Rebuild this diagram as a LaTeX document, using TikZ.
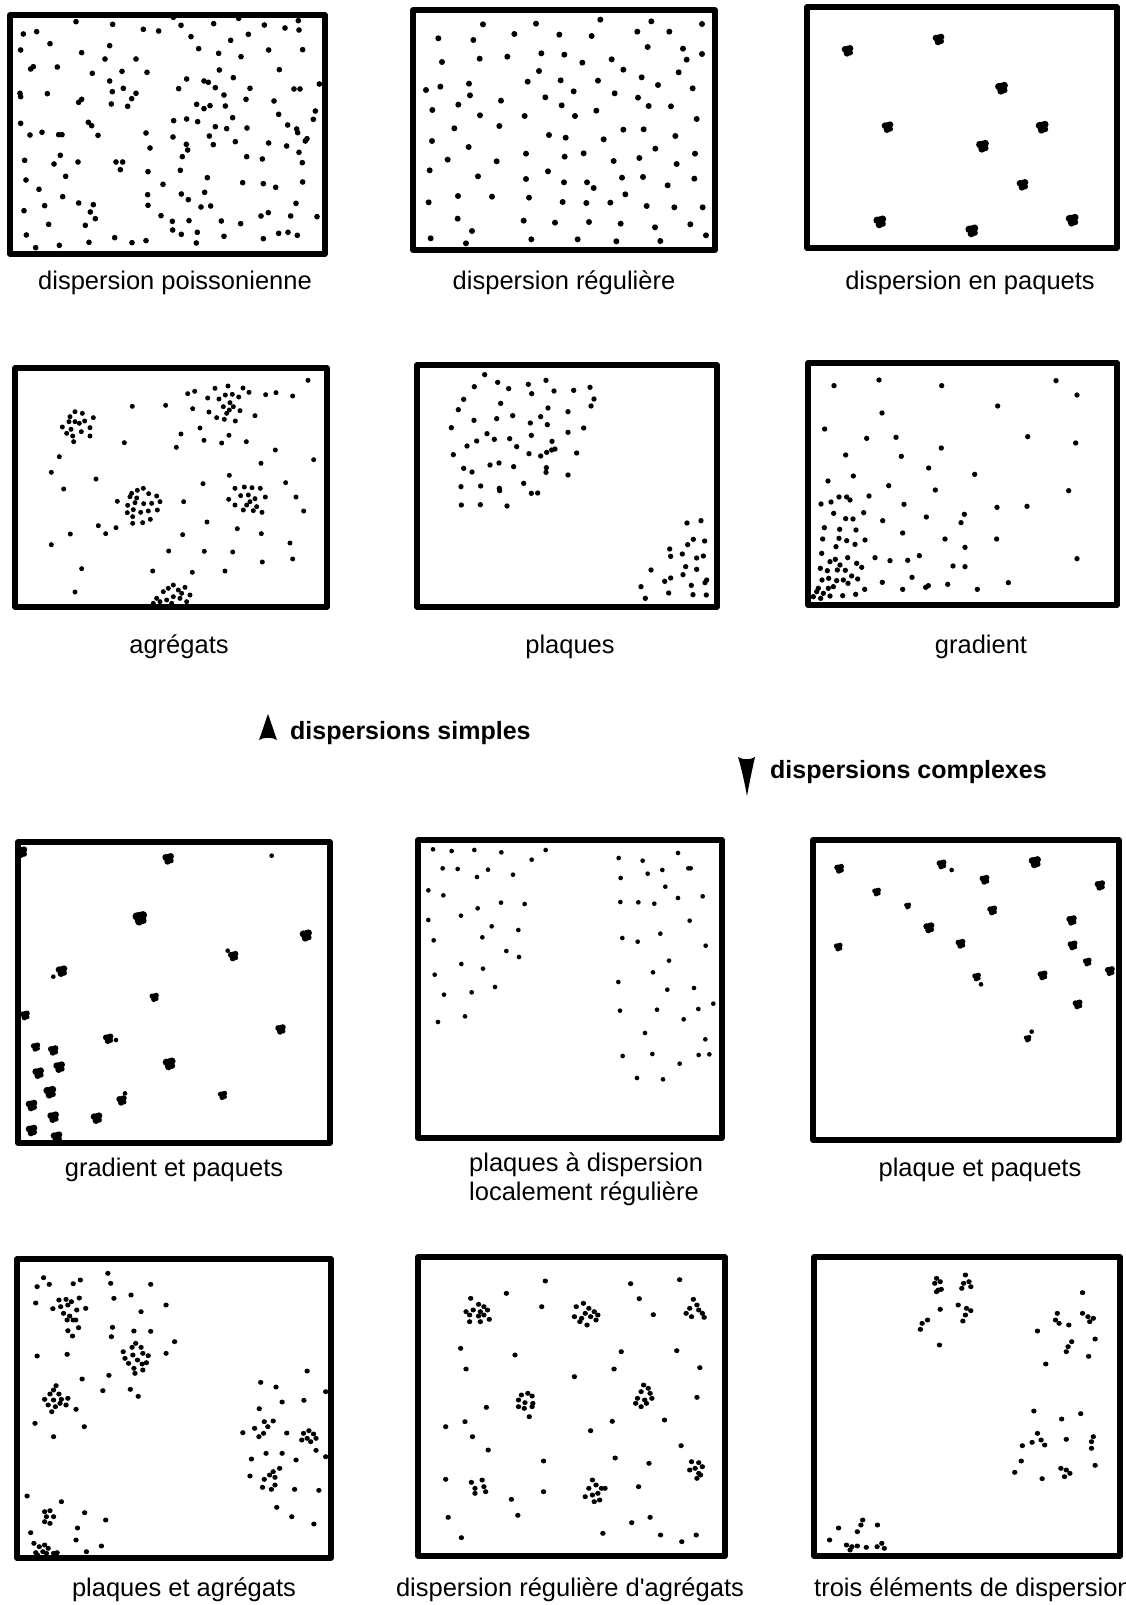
\documentclass[tikz,border=0pt]{standalone}
\usepackage{fontspec}
\setmainfont{Liberation Sans}
\newcommand\dotlist[2]{\foreach \a/\b in {#2} \fill (\a,\b) circle[radius=#1];}
\newcommand\bloblist[1]{\foreach \a/\b/\s in {#1} \fill[shift={(\a,\b)},scale=\s] (0,0) circle[radius=14] (7,-6) circle[radius=10] (-8,-3) circle[radius=10] (-2,9) circle[radius=10] (8,7) circle[radius=8];}
\begin{document}
\begin{tikzpicture}[x=1pt,y=-1pt,
  box/.style={line width=5.5pt,line join=round,line cap=round},
  lbl/.style={anchor=base,inner sep=0pt,font=\fontsize{25.5}{30}\selectfont},
  bold/.style={anchor=base west,inner sep=0pt,font=\fontsize{25}{30}\selectfont\bfseries}]
\useasboundingbox[fill=white] (0,0) rectangle (1125,1605);

% ---------- boxes ----------
\draw[box] (10,15) rectangle (325,254);
\draw[box] (413,10) rectangle (715,250);
\draw[box] (807,7) rectangle (1117,248);
\draw[box] (15,368) rectangle (327,607);
\draw[box] (417,365) rectangle (717,607);
\draw[box] (808,363) rectangle (1117,605);
\draw[box] (18,842) rectangle (330,1143);
\draw[box] (418,840) rectangle (722,1138);
\draw[box] (813,840) rectangle (1119,1140);
\draw[box] (17,1259) rectangle (331,1558);
\draw[box] (418,1257) rectangle (725,1556);
\draw[box] (814,1257) rectangle (1120,1556);

% ---------- labels ----------
\node[lbl] (l1) at (175,289) {dispersion poissonienne};
\node[lbl] (l2) at (564,289) {dispersion régulière};
\node[lbl] (l3) at (970,289) {dispersion en paquets};
\node[lbl] (l4) at (179,653) {agrégats};
\node[lbl] (l5) at (570,653) {plaques};
\node[lbl] (l6) at (981,653) {gradient};
\node[lbl] (l7) at (174,1176) {gradient et paquets};
\node[lbl,anchor=base west] (l8a) at (469,1171) {plaques à dispersion};
\node[lbl,anchor=base west] (l8b) at (469,1200) {localement régulière};
\node[lbl] (l9) at (980,1176) {plaque et paquets};
\node[lbl] (l10) at (184,1596) {plaques et agrégats};
\node[lbl] (l11) at (570,1596) {dispersion régulière d\textquotesingle agrégats};
\node[lbl,anchor=base west] (l12) at (814,1596) {trois éléments de dispersion};

\fill (268,714) .. controls (271,722) and (274,732) .. (277,740) .. controls (273,737) and (263,737) .. (259,740) .. controls (262,732) and (265,722) .. cycle;
\node[bold] (s) at (290,739) {dispersions simples};
\fill (738,757) .. controls (742,760) and (751,760) .. (755,757) .. controls (752,770) and (749,785) .. (747,796) .. controls (745,785) and (742,770) .. cycle;
\node[bold] (c) at (770,778) {dispersions complexes};

% ---------- box 1 : poisson ----------
\begin{scope}[scale=1/3]
\dotlist{8.5}{228/65,338/73,430/88,476/93,543/76,641/71,716/55,793/75,855/84,895/62,897/90,520/52,
70/102,110/95,150/131,245/158,329/137,315/177,408/177,573/110,596/146,692/121,745/103,656/160,723/170,806/150,908/149,
62/150,92/207,100/200,172/201,277/220,366/214,441/217,329/243,337/275,370/265,408/280,395/296,334/312,383/319,560/237,536/266,612/243,625/247,646/263,700/233,658/210,838/209,882/267,900/267,750/265,672/285,738/298,822/303,958/252,
60/280,62/290,142/281,236/307,245/298,590/313,612/326,630/317,676/318,521/362,560/357,593/365,698/353,836/343,946/333,940/358,863/375,890/387,893/398,916/423,921/416,
62/370,90/405,126/397,176/404,186/404,265/367,275/377,294/406,438/399,450/444,519/411,559/433,563/450,628/408,646/380,680/386,741/384,640/434,706/425,806/429,860/438,897/457,
74/481,181/466,162/492,234/486,348/486,368/486,361/509,444/515,547/470,541/511,622/533,740/470,787/477,907/488,908/546,
78/540,197/529,117/568,489/553,544/582,614/577,565/599,603/621,632/618,728/548,790/551,827/562,888/610,
72/632,134/617,188/590,236/609,280/614,271/636,286/656,256/676,146/673,443/584,444/616,483/647,517/664,518/690,544/703,567/662,592/697,664/663,722/671,783/648,805/638,872/648,951/650,
79/705,107/743,178/736,267/727,344/713,396/728,438/722,589/729,672/709,790/716,836/700,864/697,892/706}
\end{scope}

% ---------- box 2 : reguliere ----------
\begin{scope}[shift={(375,0)},scale=1/3]
\dotlist{9}{324/73,483/71,676/59,829/64,981/72,190/115,295/120,418/102,553/104,650/108,787/95,883/95,201/186,314/176,397/170,499/160,568/164,622/188,710/178,818/141,924/146,935/179,981/162,492/213,745/209,911/217,153/270,196/260,282/251,285/286,458/245,557/241,596/274,669/242,719/280,800/232,849/255,953/265,172/330,250/314,378/302,511/292,560/316,789/293,821/318,888/319,315/346,449/348,600/348,664/332,965/357,238/385,373/378,522/405,572/413,686/418,745/389,806/388,901/408,171/423,281/441,218/479,365/484,453/461,569/470,626/460,716/483,793/474,841/446,905/492,960/461,164/511,309/529,453/537,519/514,567/547,636/547,656/564,741/533,804/531,878/556,958/536,161/607,249/588,351/590,462/593,563/606,634/609,706/608,751/583,815/618,898/622,983/622,248/656,446/662,540/668,642/666,737/671,840/682,946/673,167/715,291/693,273/730,469/718,608/718,724/724,856/723,993/706}
\end{scope}

% ---------- box 3 : paquets ----------
\begin{scope}[shift={(750,0)},scale=1/3]
\bloblist{293/151/1.0,566/117/1.0,755/263/1.1,413/380/1.0,877/380/1.1,698/437/1.1,818/553/1.0,390/664/1.1,666/691/1.1,967/659/1.1}
\end{scope}

% ---------- box 4 : agregats ----------
\begin{scope}[shift={(0,350)},scale=1/3]
\dotlist{7.5}{225/185,247/190,280/203,210/200,207/215,225/215,254/213,187/231,213/238,244/245,270/233,200/250,218/258,221/275,270/258,238/220,
397/169,497/166,373/278,529/292,543/252,178/320,154/367,191/417,288/387,600/234,612/271,665/279,687/256,739/275,765/197,826/300,783/340,941/329,924/91,797/134,828/128,878/138,563/131,584/124,578/176,
645/115,684/108,729/114,747/127,623/144,657/147,676/135,697/133,716/141,690/158,670/170,700/170,720/182,680/190,627/186,650/203,673/208,706/213,688/180,
430/415,412/421,395/430,390/440,446/431,470/438,383/466,405/458,431/461,455/460,480/455,400/479,422/487,445/483,472/480,382/488,398/500,398/520,428/518,451/508,410/444,352/454,
705/415,733/411,756/413,781/415,686/448,722/437,745/435,765/446,796/441,705/465,740/465,770/470,730/480,760/482,786/487,750/455,
688/376,609/401,551/455,857/398,888/441,911/483,295/527,317/551,348/533,211/552,154/584,621/516,548/554,712/536,784/551,506/603,613/604,698/606,870/579,878/627,787/636,245/656,458/663,577/667,675/663,225/726,
470/745,490/725,505/715,520/705,535/720,555/712,570/735,480/755,500/750,520/740,540/745,560/755,460/760,545/730,515/760}
\end{scope}

% ---------- box 5 : plaques ----------
\begin{scope}[shift={(375,350)},scale=1/3]
\dotlist{8}{329/74,298/110,368/97,401/116,460/103,470/131,513/91,537/123,596/121,645/112,657/147,648/168,266/148,250/179,377/160,297/211,365/206,413/197,466/219,497/200,519/174,517/224,579/185,229/233,276/288,305/273,336/251,358/268,404/266,425/290,469/256,531/274,579/247,626/234,235/314,462/311,497/318,515/307,530/300,540/297,605/309,266/355,291/366,345/345,372/339,416/350,514/353,513/367,579/375,258/410,317/408,373/415,374/422,446/400,469/430,488/429,259/465,316/464,396/468,
936/519,978/512,884/597,938/584,955/568,989/573,887/619,922/612,965/624,985/618,828/660,932/650,965/658,924/674,869/694,887/684,949/706,995/690,990/698,798/710,811/745,881/729,954/734,994/735}
\end{scope}

% ---------- box 6 : gradient ----------
\begin{scope}[shift={(750,350)},scale=1/3]
\dotlist{8}{252/107,387/90,575/107,918/92,981/135,743/168,396/189,224/237,350/265,438/262,574/294,833/260,977/279,287/315,454/319,536/354,674/373,234/393,310/378,416/407,556/420,956/422,213/462,243/456,267/441,290/441,300/450,357/438,462/463,741/472,831/469,251/490,287/506,309/507,341/488,398/512,529/501,643/493,633/518,223/533,269/538,318/540,458/549,218/567,267/565,290/572,345/570,315/583,258/590,585/567,740/567,645/592,215/610,293/623,375/623,420/632,473/631,508/617,609/648,645/650,981/626,240/635,256/628,270/645,320/640,335/652,211/655,232/662,262/660,286/661,305/678,323/687,216/690,236/685,260/692,280/690,294/700,486/682,397/697,458/718,527/712,535/707,593/703,682/718,775/698,344/718,317/733,278/737,205/715,220/730,240/738,212/745,235/715,250/710,190/740,200/725}
\end{scope}

% ---------- box 7 : gradient et paquets ----------
\begin{scope}[shift={(0,825)},scale=1/3]
\bloblist{65/80/1.0,505/100/1.0,420/278/1.25,918/330/1.05,700/392/0.9,185/437/1.0,463/516/0.8,75/570/0.85,842/612/0.9,325/640/0.9,107/665/0.8,160/675/0.9,178/725/1.0,115/743/1.0,150/800/1.1,95/840/1.0,160/875/1.0,290/878/1.0,365/825/0.9,508/715/1.1,668/810/0.8,95/915/1.0,170/935/1.0}
\dotlist{7}{683/377,160/455,348/645,815/92,375/805}
\end{scope}

% ---------- box 8 : plaques a dispersion localement reguliere ----------
\begin{scope}[shift={(375,825)},scale=1/3]
\dotlist{7}{174/73,230/78,298/75,379/82,470/104,512/75,203/130,248/132,306/156,339/134,414/149,160/196,205/211,378/233,449/237,308/250,258/272,160/285,350/304,430/315,322/337,176/346,394/378,432/396,259/417,324/431,179/449,207/509,290/502,360/486,189/591,270/574,
731/99,803/107,909/84,737/159,818/146,862/135,940/130,947/130,871/185,736/231,790/232,838/236,909/219,983/214,944/287,742/339,788/350,856/326,992/362,882/407,834/442,730/471,877/494,957/489,735/557,846/554,970/552,1015/536,926/583,810/624,991/643,743/693,832/687,971/690,1003/688,914/716,786/759,864/763}
\end{scope}

% ---------- box 9 : plaque et paquets ----------
\begin{scope}[shift={(750,825)},scale=1/3]
\bloblist{268/130/0.85,380/200/0.75,473/242/0.6,575/117/0.85,704/163/0.85,855/110/1.05,1050/180/0.9,727/255/0.85,537/307/0.95,632/355/0.85,265/365/0.75,965/285/0.9,968/360/0.85,1012/410/0.75,1080/437/0.85,680/455/0.75,878/450/0.85,983/537/0.85,833/640/0.65}
\dotlist{7}{605/135,693/478,845/620}
\end{scope}

% ---------- box 10 : plaques et agregats ----------
\begin{scope}[shift={(0,1240)},xscale=1/2.8,yscale=1/3]
\dotlist{7.5}{122/113,104/140,138/133,205/131,225/120,302/100,310/130,422/133,100/189,148/206,319/175,367/165,465/195,395/215,315/262,312/290,375/273,422/274,489/305,465/340,104/348,188/343,230/417,305/406,288/452,365/448,387/469,98/550,236/560,150/590,213/508,76/768,172/785,237/818,296/840,217/864,86/878,213/900,284/918,242/935,160/938,100/938,
165/180,185/178,200/185,222/174,170/200,190/195,215/210,240/205,178/220,195/228,205/240,188/240,212/240,190/272,220/263,203/288,
380/310,370/322,395/322,345/335,372/345,400/340,415/347,350/355,385/360,360/370,398/372,375/385,410/368,378/400,400/390,
157/437,150/450,140/462,165/462,125/478,150/480,172/478,190/475,135/495,155/500,185/495,145/515,168/490,
125/815,140/812,130/830,150/830,125/845,140/850,
95/910,110/920,125/915,135/925,120/935,105/945,130/940,150/940,
730/427,773/441,790/486,851/481,860/393,726/506,680/578,713/565,740/545,750/560,738/580,725/590,765/543,803/579,850/580,865/572,878/582,860/595,845/600,870/605,885/595,885/631,912/455,912/650,704/657,745/640,790/640,829/660,700/708,740/718,755/705,770/712,783/685,765/695,735/742,760/748,770/735,825/748,893/751,775/802,817/830,879/852,
1527/123,1418/160,1517/200,1290/325,1442/345,1305/387,1362/502,1248/560,1302/545,1323/590,1367/630,1522/663,1248/718,1432/778,1522/755,1255/832,1450/826,1292/893,
1318/175,1340/193,1355/200,1305/215,1325/210,1345/215,1365/210,1315/225,1340/228,1355/225,1370/238,1315/245,1345/245,
1460/465,1478/460,1490/468,1452/480,1470/488,1492/490,1452/500,1468/505,1490/500,1482/530,
1320/727,1350/720,1330/745,1355/740,1360/755,1330/760}
\end{scope}

% ---------- box 11 (right part) and box 12 ----------
\begin{scope}[shift={(560,1240)},xscale=1/2.775,yscale=1/3]
\dotlist{7.5}{196/131,332/119,220/176,259/224,170/335,324/332,40/410,150/387,388/383,380/472,145/544,290/540,85/572,336/617,153/654,247/670,218/740,199/848,250/832,119/880,279/885,338/905,378/885,
45/200,65/190,80/205,95/215,40/230,60/235,85/230,105/225,55/245,75/255,100/240,70/220,
370/178,380/195,360/205,385/210,395/220,350/220,365/230,400/232,
232/435,245/445,225/455,250/460,215/475,235/480,255/475,210/490,225/500,240/490,
365/665,385/668,395/680,375/685,360/690,385/700,380/715,390/705,
90/720,100/735,115/745,80/745,70/770,90/765,105/760,95/785,110/780,125/745,
1045/115,1055/125,1040/130,1050/150,1045/155,1058/148,1125/105,1120/130,1135/125,1115/145,1140/140,1055/208,1105/195,1128/205,1140/212,1125/225,1118/243,1020/240,1005/250,1000/268,1053/315,
1450/158,1380/220,1375/240,1385/250,1412/255,1450/220,1465/230,1480/235,1470/245,1325/273,1485/297,1420/305,1410/320,1405/335,1467/349,1348/372,
1315/513,1392/537,1445/521,1325/580,1335/600,1345/615,1310/607,1283/617,1405/598,1480/590,1475/605,1475/625,1280/663,1262/697,1338/716,1390/685,1405/690,1400/710,1415/700,1485/676,
773/864,748/900,840/840,835/855,825/875,881/855,795/915,810/920,825/918,850/922,880/920,893/910,900/925,805/930}
\end{scope}
\end{tikzpicture}
\end{document}
